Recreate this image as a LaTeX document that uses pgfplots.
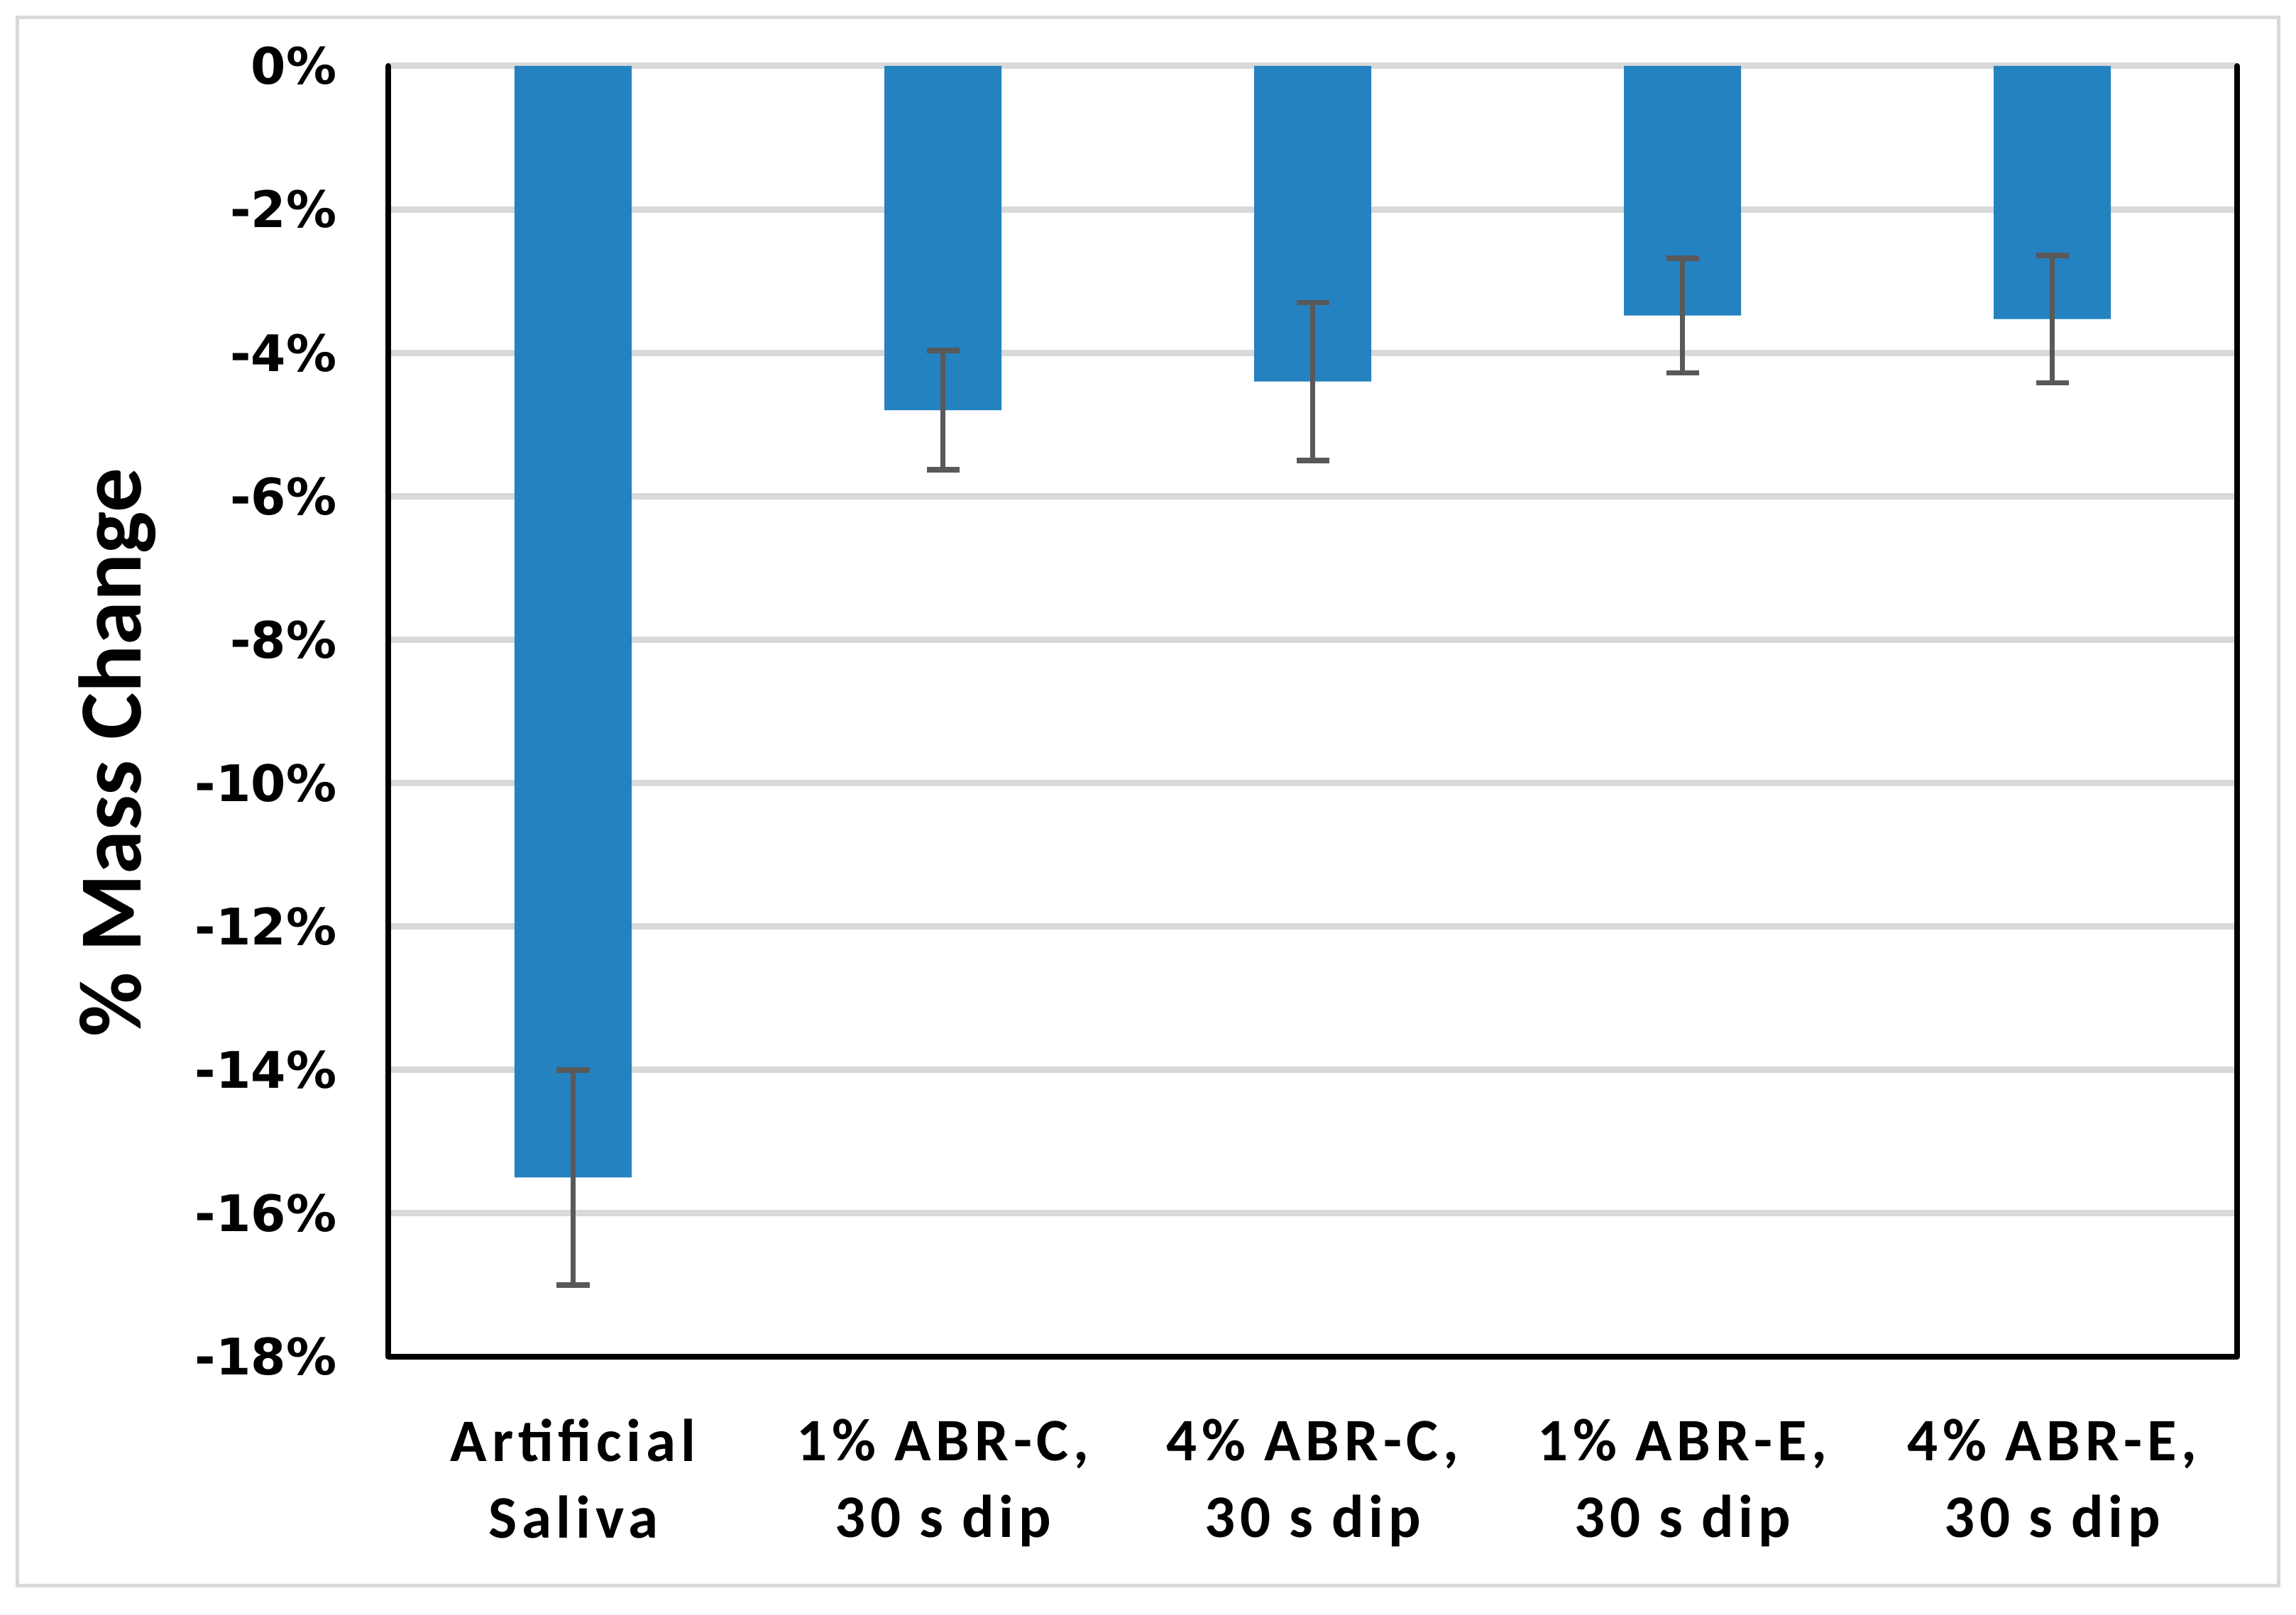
\documentclass[border=0pt]{standalone}
\usepackage{fontspec}
\usepackage{pgfplots}
\pgfplotsset{compat=1.18}
\newfontfamily\tickfont{DejaVu Sans}
\newfontfamily\labfont[LetterSpace=8]{Carlito}
\newfontfamily\ylabfont{Carlito}
\definecolor{barblue}{RGB}{36,130,192}
\definecolor{errgray}{RGB}{89,89,89}
\definecolor{gridgray}{RGB}{217,217,217}
\begin{document}
\begin{tikzpicture}
\path[use as bounding box] (-109.4pt,-72.6pt) rectangle (537.6pt,382.4pt);
\draw[gridgray, line width=1pt] (-104.4pt,-64.4pt) rectangle (532.6pt,377.4pt);
\begin{axis}[
  name=ax,
  at={(0,0)}, anchor=south west,
  scale only axis, width=521pt, height=363.8pt,
  xmin=-0.5, xmax=4.5, ymin=-18, ymax=0,
  ytick={-18,-16,...,0},
  yticklabels={-18\%,-16\%,-14\%,-12\%,-10\%,-8\%,-6\%,-4\%,-2\%,0\%},
  xtick={0,1,2,3,4},
  xticklabels={{Artificial\\Saliva},{1\% ABR-C,\\30 s dip},{4\% ABR-C,\\30 s dip},{1\% ABR-E,\\30 s dip},{4\% ABR-E,\\30 s dip}},
  ymajorgrids, grid style={gridgray, line width=1.8pt},
  major tick length=0pt,
  axis line style={draw=none},
  yticklabel style={font=\tickfont\bfseries\fontsize{14.2}{17}\selectfont, xshift=-11pt},
  xticklabel style={font=\labfont\bfseries\fontsize{17}{21.6}\selectfont, align=center, yshift=-14pt},
  ylabel={\% Mass Change},
  every axis y label/.style={at={([xshift=-76.4pt]axis description cs:0,0.468)}, rotate=90, anchor=center, font=\ylabfont\bfseries\fontsize{25}{30}\selectfont},
  ybar, bar width=33pt,
]
\addplot[fill=barblue, draw=none,
  error bars/.cd, y dir=both, y explicit,
  error bar style={errgray, line width=1.5pt},
  error mark options={errgray, line width=1.5pt, mark size=4.6pt, rotate=90}]
  coordinates {
  (0,-15.5) +- (0,1.5)
  (1,-4.8) +- (0,0.83)
  (2,-4.4) +- (0,1.1)
  (3,-3.48) +- (0,0.8)
  (4,-3.53) +- (0,0.89)
  };
\end{axis}
\draw[black, line width=1.6pt, line cap=round, line join=round] (ax.north west) -- (ax.south west) -- (ax.south east) -- (ax.north east);
\end{tikzpicture}
\end{document}
